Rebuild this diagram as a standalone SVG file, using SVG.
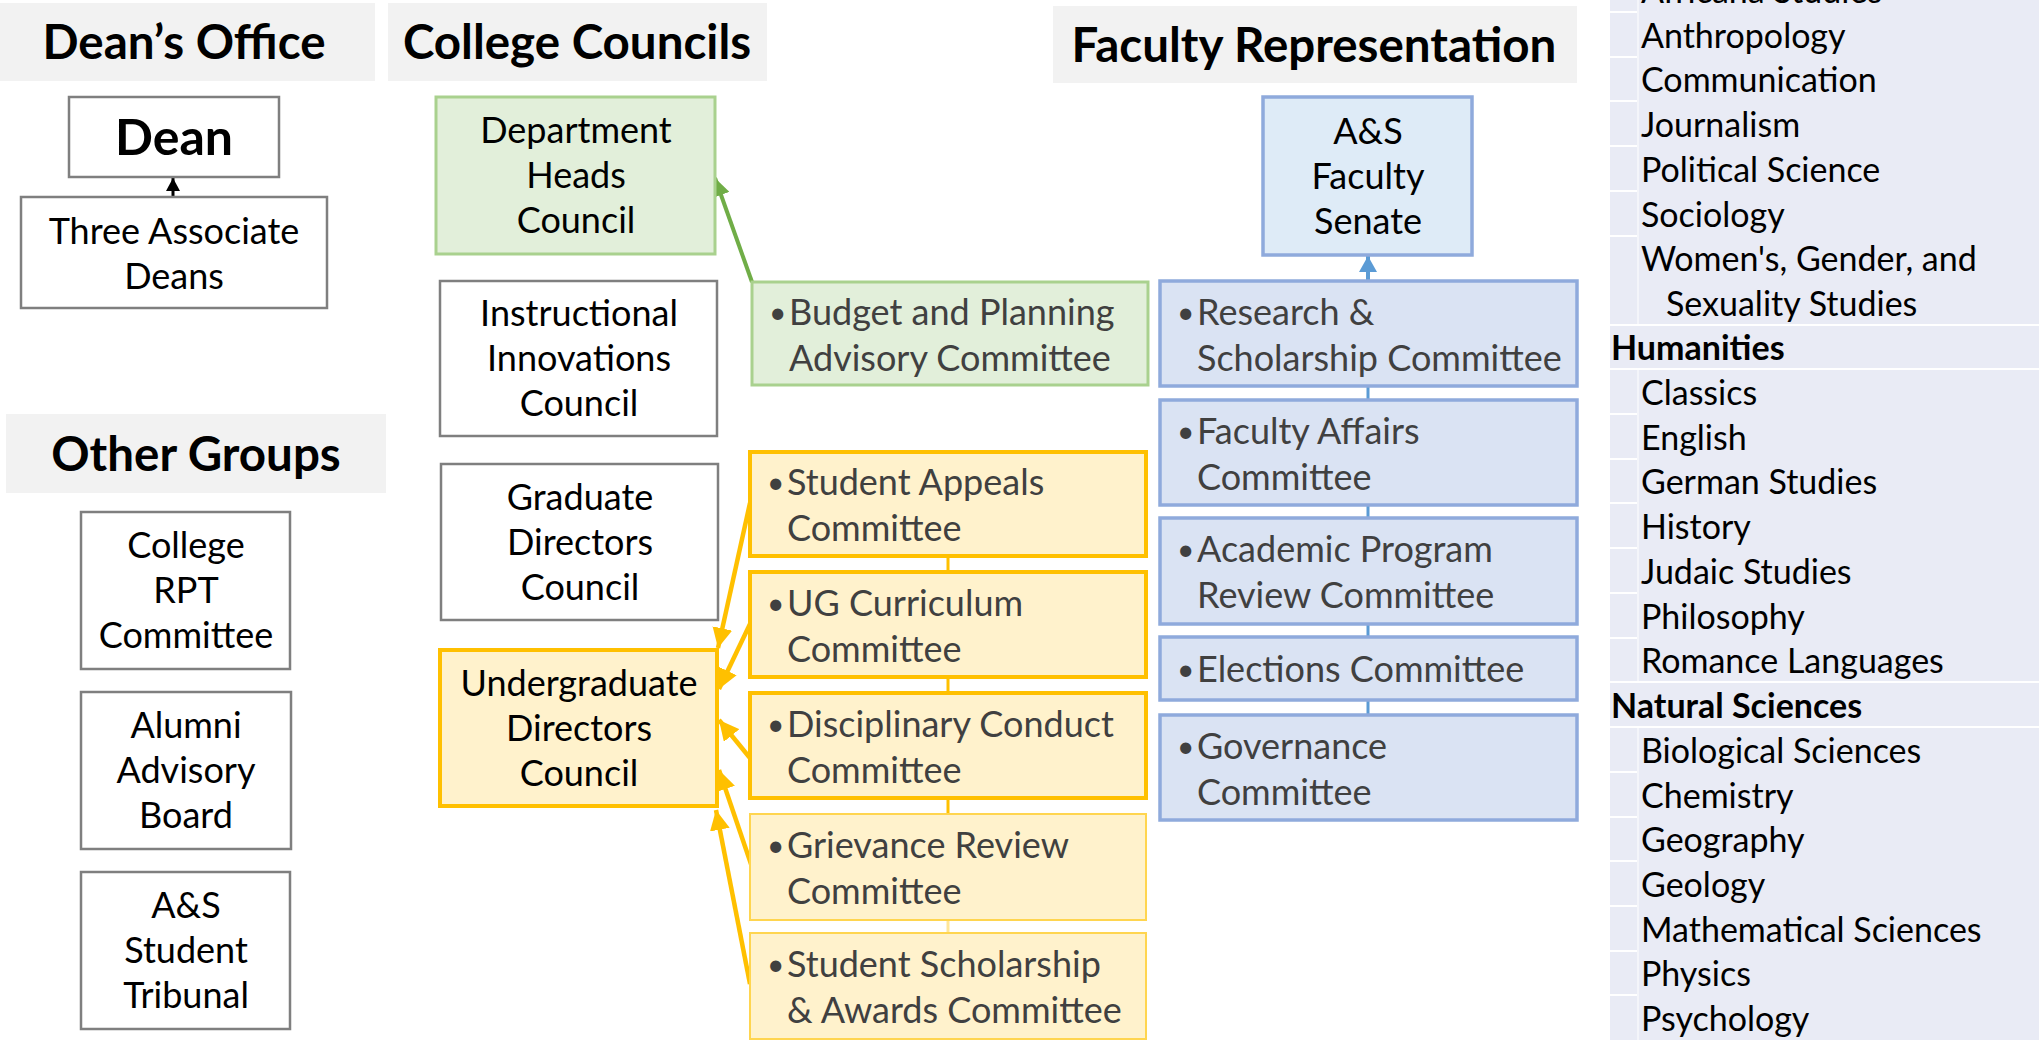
<svg xmlns="http://www.w3.org/2000/svg" width="2039" height="1046" viewBox="0 0 2039 1046">
<style>
text{font-family:Lato,"Liberation Sans",sans-serif}
.hdbg{fill:#F2F2F2}
.hd{font-weight:bold;font-size:47.5px;text-anchor:middle;fill:#000}
.wb{fill:#fff;stroke:#7F7F7F;stroke-width:2.5}
.gb{fill:#E2EFDA;stroke:#A9D18E;stroke-width:3}
.yb{fill:#FFF2CC;stroke:#FFC000;stroke-width:4}
.yl{fill:#FFF2CC;stroke:#FFD54F;stroke-width:2}
.bb{fill:#DAE3F3;stroke:#8FAADC;stroke-width:3.5}
.sb{fill:#DEEBF7;stroke:#8FAADC;stroke-width:3.5}
.bx{font-size:36px;text-anchor:middle;fill:#000}
.dn{font-size:50px;font-weight:bold;text-anchor:middle;fill:#000}
.cm{font-size:36px;fill:#404040}
.bu{font-size:30px;fill:#404040}
.tb{font-size:34px;fill:#000}
.tbh{font-size:34px;font-weight:bold;fill:#000}
.tl{stroke:#fff;stroke-width:2}
</style>
<defs>
<marker id="ak" markerUnits="userSpaceOnUse" markerWidth="16" markerHeight="14" refX="13" refY="7" orient="auto"><path d="M0,0 L13,7 L0,14 Z" fill="#000"/></marker>
<marker id="ag" markerUnits="userSpaceOnUse" markerWidth="20" markerHeight="18" refX="18" refY="9" orient="auto"><path d="M0,0 L18,9 L0,18 Z" fill="#70AD47"/></marker>
<marker id="ay" markerUnits="userSpaceOnUse" markerWidth="22" markerHeight="20" refX="20" refY="10" orient="auto"><path d="M0,0 L20,10 L0,20 Z" fill="#FFC000"/></marker>
<marker id="ab" markerUnits="userSpaceOnUse" markerWidth="18" markerHeight="18" refX="16" refY="9" orient="auto"><path d="M0,0 L16,9 L0,18 Z" fill="#5B9BD5"/></marker>
</defs>

<!-- Section headers -->
<g id="hdr-deans-office"><rect class="hdbg" x="0" y="3" width="375" height="78"/><text class="hd" x="184" y="59">Dean’s Office</text></g>
<g id="hdr-college-councils"><rect class="hdbg" x="388" y="3" width="379" height="78"/><text class="hd" x="577" y="59">College Councils</text></g>
<g id="hdr-faculty-representation"><rect class="hdbg" x="1053" y="6" width="524" height="77"/><text class="hd" x="1314" y="62">Faculty Representation</text></g>
<g id="hdr-other-groups"><rect class="hdbg" x="6" y="414" width="380" height="79"/><text class="hd" x="196" y="471">Other Groups</text></g>

<!-- Connectors -->
<g id="connectors" fill="none">
<line x1="173" y1="197" x2="173" y2="178" stroke="#000" stroke-width="3" marker-end="url(#ak)"/>
<line x1="752" y1="282" x2="715" y2="178" stroke="#70AD47" stroke-width="4" marker-end="url(#ag)"/>
<line x1="1368" y1="281" x2="1368" y2="256" stroke="#5B9BD5" stroke-width="4" marker-end="url(#ab)"/>
<g stroke="#5B9BD5" stroke-width="3">
<line x1="1368" y1="386" x2="1368" y2="400"/>
<line x1="1368" y1="505" x2="1368" y2="518"/>
<line x1="1368" y1="624" x2="1368" y2="637"/>
<line x1="1368" y1="700" x2="1368" y2="715"/>
</g>
<g stroke="#FFC000" stroke-width="3">
<line x1="948" y1="556" x2="948" y2="572"/>
<line x1="948" y1="677" x2="948" y2="693"/>
<line x1="948" y1="798" x2="948" y2="814"/>
</g>
<line x1="948" y1="920" x2="948" y2="933" stroke="#FFE699" stroke-width="3"/>
<g stroke="#FFC000" stroke-width="4.5" marker-end="url(#ay)">
<line x1="750" y1="503" x2="718" y2="648"/>
<line x1="750" y1="624" x2="719" y2="689"/>
<line x1="750" y1="758" x2="719" y2="720"/>
<line x1="752" y1="867" x2="719" y2="770"/>
<line x1="750" y1="984" x2="716" y2="810"/>
</g>
</g>

<!-- Dean's Office -->
<g id="dean"><rect class="wb" x="69" y="97" width="210" height="80"/><text class="dn" x="174" y="155">Dean</text></g>
<g id="associate-deans"><rect class="wb" x="21" y="197" width="306" height="111"/><text class="bx" x="174" y="244">Three Associate</text><text class="bx" x="174" y="289">Deans</text></g>

<!-- College Councils -->
<g id="dept-heads-council"><rect class="gb" x="436" y="97" width="279" height="157"/><text class="bx" x="576" y="143">Department</text><text class="bx" x="576" y="188">Heads</text><text class="bx" x="576" y="233">Council</text></g>
<g id="instructional-innovations-council"><rect class="wb" x="440" y="281" width="277" height="155"/><text class="bx" x="579" y="326">Instructional</text><text class="bx" x="579" y="371">Innovations</text><text class="bx" x="579" y="416">Council</text></g>
<g id="graduate-directors-council"><rect class="wb" x="441" y="464" width="277" height="156"/><text class="bx" x="580" y="510">Graduate</text><text class="bx" x="580" y="555">Directors</text><text class="bx" x="580" y="600">Council</text></g>
<g id="undergraduate-directors-council"><rect class="yb" x="440" y="650" width="277" height="156"/><text class="bx" x="579" y="696">Undergraduate</text><text class="bx" x="579" y="741">Directors</text><text class="bx" x="579" y="786">Council</text></g>

<g id="budget-planning"><rect class="gb" x="752" y="282" width="396" height="103"/><text class="bu" x="769" y="323">•</text><text class="cm" x="789" y="325">Budget and Planning</text><text class="cm" x="789" y="371">Advisory Committee</text></g>

<g id="student-appeals"><rect class="yb" x="750" y="452" width="396" height="104"/><text class="bu" x="767" y="493">•</text><text class="cm" x="787" y="495">Student Appeals</text><text class="cm" x="787" y="541">Committee</text></g>
<g id="ug-curriculum"><rect class="yb" x="750" y="572" width="396" height="105"/><text class="bu" x="767" y="614">•</text><text class="cm" x="787" y="616">UG Curriculum</text><text class="cm" x="787" y="662">Committee</text></g>
<g id="disciplinary-conduct"><rect class="yb" x="750" y="693" width="396" height="105"/><text class="bu" x="767" y="735">•</text><text class="cm" x="787" y="737">Disciplinary Conduct</text><text class="cm" x="787" y="783">Committee</text></g>
<g id="grievance-review"><rect class="yl" x="750" y="814" width="396" height="106"/><text class="bu" x="767" y="856">•</text><text class="cm" x="787" y="858">Grievance Review</text><text class="cm" x="787" y="904">Committee</text></g>
<g id="student-scholarship"><rect class="yl" x="750" y="933" width="396" height="106"/><text class="bu" x="767" y="975">•</text><text class="cm" x="787" y="977">Student Scholarship</text><text class="cm" x="787" y="1023">&amp; Awards Committee</text></g>

<!-- Faculty Representation -->
<g id="faculty-senate"><rect class="sb" x="1263" y="97" width="209" height="158"/><text class="bx" x="1368" y="144">A&amp;S</text><text class="bx" x="1368" y="189">Faculty</text><text class="bx" x="1368" y="234">Senate</text></g>
<g id="research-scholarship"><rect class="bb" x="1160" y="281" width="417" height="105"/><text class="bu" x="1177" y="323">•</text><text class="cm" x="1197" y="325">Research &amp;</text><text class="cm" x="1197" y="371">Scholarship Committee</text></g>
<g id="faculty-affairs"><rect class="bb" x="1160" y="400" width="417" height="105"/><text class="bu" x="1177" y="442">•</text><text class="cm" x="1197" y="444">Faculty Affairs</text><text class="cm" x="1197" y="490">Committee</text></g>
<g id="academic-program-review"><rect class="bb" x="1160" y="518" width="417" height="106"/><text class="bu" x="1177" y="560">•</text><text class="cm" x="1197" y="562">Academic Program</text><text class="cm" x="1197" y="608">Review Committee</text></g>
<g id="elections"><rect class="bb" x="1160" y="637" width="417" height="63"/><text class="bu" x="1177" y="680">•</text><text class="cm" x="1197" y="682">Elections Committee</text></g>
<g id="governance"><rect class="bb" x="1160" y="715" width="417" height="105"/><text class="bu" x="1177" y="757">•</text><text class="cm" x="1197" y="759">Governance</text><text class="cm" x="1197" y="805">Committee</text></g>

<!-- Other Groups -->
<g id="college-rpt"><rect class="wb" x="81" y="512" width="209" height="157"/><text class="bx" x="186" y="558">College</text><text class="bx" x="186" y="603">RPT</text><text class="bx" x="186" y="648">Committee</text></g>
<g id="alumni-advisory-board"><rect class="wb" x="81" y="692" width="210" height="157"/><text class="bx" x="186" y="738">Alumni</text><text class="bx" x="186" y="783">Advisory</text><text class="bx" x="186" y="828">Board</text></g>
<g id="student-tribunal"><rect class="wb" x="81" y="872" width="209" height="157"/><text class="bx" x="186" y="918">A&amp;S</text><text class="bx" x="186" y="963">Student</text><text class="bx" x="186" y="1008">Tribunal</text></g>

<!-- Department list -->
<g id="department-list">
<rect x="1610" y="0" width="429" height="1040" fill="#E9EBF5"/>
<line x1="1638" y1="0" x2="1638" y2="325" stroke="#F4F5FA" stroke-width="2"/>
<line x1="1638" y1="369" x2="1638" y2="682" stroke="#F4F5FA" stroke-width="2"/>
<line x1="1638" y1="727" x2="1638" y2="1040" stroke="#F4F5FA" stroke-width="2"/>
<g class="tl">
<line x1="1610" y1="12" x2="1637" y2="12"/>
<line x1="1610" y1="57" x2="1637" y2="57"/>
<line x1="1610" y1="101" x2="1637" y2="101"/>
<line x1="1610" y1="146" x2="1637" y2="146"/>
<line x1="1610" y1="191" x2="1637" y2="191"/>
<line x1="1610" y1="236" x2="1637" y2="236"/>
<line x1="1610" y1="325" x2="2039" y2="325"/>
<line x1="1610" y1="369" x2="2039" y2="369"/>
<line x1="1610" y1="414" x2="1637" y2="414"/>
<line x1="1610" y1="459" x2="1637" y2="459"/>
<line x1="1610" y1="503" x2="1637" y2="503"/>
<line x1="1610" y1="548" x2="1637" y2="548"/>
<line x1="1610" y1="593" x2="1637" y2="593"/>
<line x1="1610" y1="638" x2="1637" y2="638"/>
<line x1="1610" y1="682" x2="2039" y2="682"/>
<line x1="1610" y1="727" x2="2039" y2="727"/>
<line x1="1610" y1="772" x2="1637" y2="772"/>
<line x1="1610" y1="817" x2="1637" y2="817"/>
<line x1="1610" y1="861" x2="1637" y2="861"/>
<line x1="1610" y1="906" x2="1637" y2="906"/>
<line x1="1610" y1="951" x2="1637" y2="951"/>
<line x1="1610" y1="995" x2="1637" y2="995"/>
</g>
<text class="tb" x="1641" y="3">Africana Studies</text>
<text class="tb" x="1641" y="48">Anthropology</text>
<text class="tb" x="1641" y="92">Communication</text>
<text class="tb" x="1641" y="137">Journalism</text>
<text class="tb" x="1641" y="182">Political Science</text>
<text class="tb" x="1641" y="227">Sociology</text>
<text class="tb" x="1641" y="271">Women's, Gender, and</text>
<text class="tb" x="1666" y="316">Sexuality Studies</text>
<text class="tbh" x="1611" y="360">Humanities</text>
<text class="tb" x="1641" y="405">Classics</text>
<text class="tb" x="1641" y="450">English</text>
<text class="tb" x="1641" y="494">German Studies</text>
<text class="tb" x="1641" y="539">History</text>
<text class="tb" x="1641" y="584">Judaic Studies</text>
<text class="tb" x="1641" y="629">Philosophy</text>
<text class="tb" x="1641" y="673">Romance Languages</text>
<text class="tbh" x="1611" y="718">Natural Sciences</text>
<text class="tb" x="1641" y="763">Biological Sciences</text>
<text class="tb" x="1641" y="808">Chemistry</text>
<text class="tb" x="1641" y="852">Geography</text>
<text class="tb" x="1641" y="897">Geology</text>
<text class="tb" x="1641" y="942">Mathematical Sciences</text>
<text class="tb" x="1641" y="986">Physics</text>
<text class="tb" x="1641" y="1031">Psychology</text>
</g>
</svg>
